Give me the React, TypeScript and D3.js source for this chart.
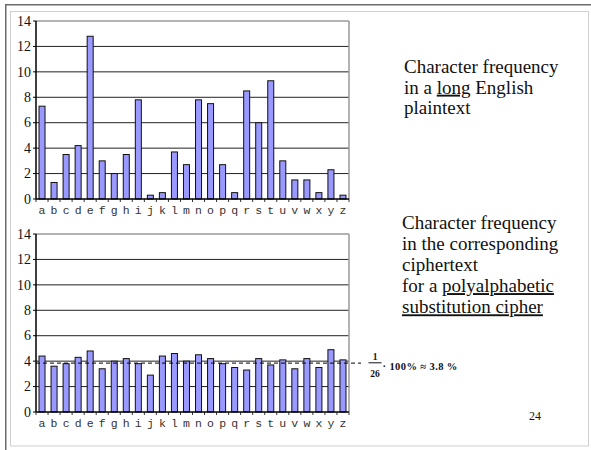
import React from "react";
import * as d3 from "d3";

const letters = "abcdefghijklmnopqrstuvwxyz".split("");

// Letter frequencies (%) in a long English plaintext
const plainFreq = [
  7.3, 1.3, 3.5, 4.2, 12.8, 3.0, 2.0, 3.5, 7.8, 0.3, 0.5, 3.7, 2.7,
  7.8, 7.5, 2.7, 0.5, 8.5, 6.0, 9.3, 3.0, 1.5, 1.5, 0.5, 2.3, 0.3,
];

// Letter frequencies (%) in the ciphertext of a polyalphabetic substitution
const cipherFreq = [
  4.4, 3.6, 3.8, 4.3, 4.8, 3.4, 4.0, 4.2, 3.8, 2.9, 4.4, 4.6, 4.0,
  4.5, 4.2, 3.8, 3.5, 3.3, 4.2, 3.7, 4.1, 3.4, 4.2, 3.5, 4.9, 4.1,
];

const yTicks = [0, 2, 4, 6, 8, 10, 12, 14];
const uniformLevel = 100 / 26;

const W = 591;
const H = 450;
const serifStyle = { fontFamily: "Liberation Serif, Times New Roman, DejaVu Serif, serif" };
const monoStyle = { fontFamily: "Liberation Mono, Courier New, DejaVu Sans Mono, monospace" };

type PanelProps = { values: number[]; top: number; bottom: number; showUniform?: boolean };

function FreqPanel({ values, top, bottom, showUniform }: PanelProps) {
  const left = 36;
  const right = 349;
  const x = d3.scaleBand<string>().domain(letters).range([left, right]).paddingInner(0.5).paddingOuter(0.25);
  const y = d3.scaleLinear().domain([0, 14]).range([bottom, top]);
  const step = x.step();
  const boundaries = d3.range(letters.length + 1).map((i) => left + i * step);

  return (
    <g>
      {/* grid lines */}
      {yTicks.filter((t) => t > 0 && t < 14).map((t) => (
        <line key={t} x1={left} x2={right} y1={y(t)} y2={y(t)} stroke="#222" strokeWidth={1} />
      ))}
      {/* plot border: top and right */}
      <line x1={left} x2={right} y1={y(14)} y2={y(14)} stroke="#9a9a9a" strokeWidth={1.5} />
      <line x1={right} x2={right} y1={y(14)} y2={y(0)} stroke="#9a9a9a" strokeWidth={1.5} />
      {/* bars */}
      {values.map((v, i) => (
        <rect
          key={letters[i]}
          x={x(letters[i])!}
          y={y(v)}
          width={x.bandwidth()}
          height={y(0) - y(v)}
          fill="#9999ff"
          stroke="#111"
          strokeWidth={1}
        />
      ))}
      {showUniform && (
        <line
          x1={left}
          x2={361}
          y1={y(uniformLevel)}
          y2={y(uniformLevel)}
          stroke="#000"
          strokeWidth={1}
          strokeDasharray="4,3"
        />
      )}
      {/* y axis */}
      <line x1={left} x2={left} y1={y(14)} y2={y(0)} stroke="#000" strokeWidth={1.5} />
      {yTicks.map((t) => (
        <g key={t}>
          <line x1={left - 3} x2={left} y1={y(t)} y2={y(t)} stroke="#000" strokeWidth={1} />
          <text x={31} y={y(t)} dy="0.34em" textAnchor="end" style={serifStyle} fontSize={14} fill="#111">
            {t}
          </text>
        </g>
      ))}
      {/* x axis */}
      <line x1={left} x2={right} y1={y(0)} y2={y(0)} stroke="#000" strokeWidth={1.5} />
      {boundaries.map((b, i) => (
        <line key={i} x1={b} x2={b} y1={y(0)} y2={y(0) + 3} stroke="#000" strokeWidth={0.8} />
      ))}
      {letters.map((l) => (
        <text
          key={l}
          x={x(l)! + x.bandwidth() / 2}
          y={y(0) + 15}
          textAnchor="middle"
          style={monoStyle}
          fontSize={11.5}
          fill="#333"
        >
          {l}
        </text>
      ))}
    </g>
  );
}

export default function App() {
  const gapTop = 20.4;
  const gapBottom = 21.2;
  return (
    <div style={{ position: "absolute", left: 0, top: 0 }}>
      <svg width={W} height={H} style={{ display: "block", background: "#fff" }}>
        {/* slide frame */}
        <line x1={5} x2={W} y1={4.75} y2={4.75} stroke="#6b6b6b" strokeWidth={1.5} />
        <line x1={5.75} x2={5.75} y1={4} y2={H} stroke="#6b6b6b" strokeWidth={1.5} />
        <rect x={10.5} y={11.5} width={578} height={434.5} fill="none" stroke="#cfcfcf" strokeWidth={1} />

        <FreqPanel values={plainFreq} top={21} bottom={199} />
        <FreqPanel values={cipherFreq} top={234} bottom={412} showUniform />

        {/* description of the upper chart */}
        <text style={serifStyle} fontSize={19} fill="#111">
          <tspan x={404} y={73.3}>Character frequency</tspan>
          <tspan x={404} y={73.3 + gapTop}>
            in a <tspan textDecoration="underline">long</tspan> English
          </tspan>
          <tspan x={404} y={73.3 + 2 * gapTop}>plaintext</tspan>
        </text>

        {/* description of the lower chart */}
        <text style={serifStyle} fontSize={19} fill="#111">
          <tspan x={402} y={228.5}>Character frequency</tspan>
          <tspan x={402} y={228.5 + gapBottom}>in the corresponding</tspan>
          <tspan x={402} y={228.5 + 2 * gapBottom}>ciphertext</tspan>
          <tspan x={402} y={228.5 + 3 * gapBottom}>
            for a <tspan textDecoration="underline">polyalphabetic</tspan>
          </tspan>
          <tspan x={402} y={228.5 + 4 * gapBottom} textDecoration="underline">substitution cipher</tspan>
        </text>

        {/* uniform level annotation */}
        <g style={serifStyle} fontWeight="bold" fill="#111">
          <text x={375} y={360} textAnchor="middle" fontSize={9.5}>1</text>
          <line x1={368.5} x2={381.5} y1={362.8} y2={362.8} stroke="#111" strokeWidth={1} />
          <text x={375} y={376.5} textAnchor="middle" fontSize={9.5}>26</text>
          <text x={382.5} y={369.5} fontSize={10.5} letterSpacing={0.4}>· 100% ≈ 3.8 %</text>
        </g>

        {/* slide number */}
        <text x={529} y={420} style={serifStyle} fontSize={12} fill="#111">24</text>
      </svg>
    </div>
  );
}
